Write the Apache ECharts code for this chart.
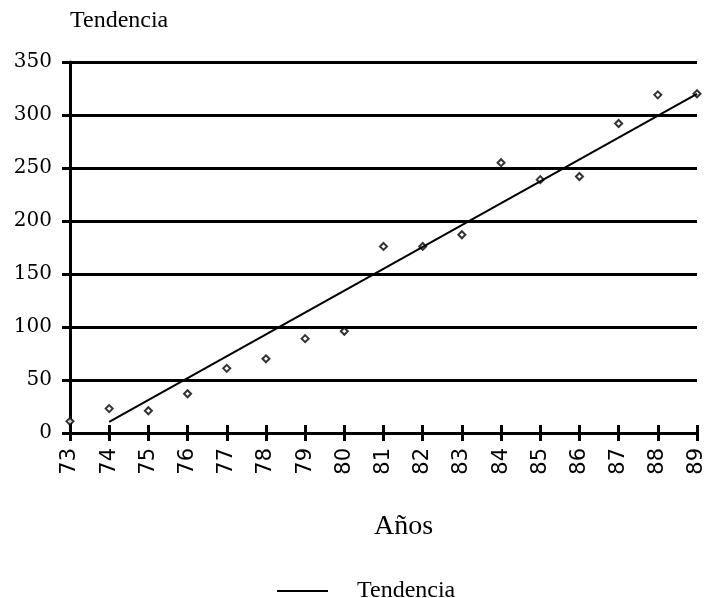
<!DOCTYPE html>
<html>
<head>
<meta charset="utf-8">
<script src="https://cdn.jsdelivr.net/npm/echarts@6/dist/echarts.min.js"></script>
<style>
  html, body { margin: 0; padding: 0; background: #fff; }
  #chart { width: 709px; height: 598px; }
</style>
</head>
<body>
<div id="chart"></div>
<script>
// años (eje x) y valores observados
const years = [73, 74, 75, 76, 77, 78, 79, 80, 81, 82, 83, 84, 85, 86, 87, 88, 89];
const observed = [11, 23, 21, 37, 61, 70, 89, 96, 176, 176, 187, 255, 239, 242, 292, 319, 320];
// recta de tendencia: extremos
const trendYears = [74, 89];
const trendValues = [10.5, 320];
const yTicks = [0, 350, 50]; // min, max, interval

const serif = 'DejaVu Serif';

const chart = echarts.init(document.getElementById('chart'));

const option = {
  animation: false,
  backgroundColor: '#fff',
  grid: { left: 70, right: 12, top: 62, bottom: 165 },
  legend: {
    data: [{ name: 'Tendencia', icon: 'rect' }],
    left: 272,
    top: 574,
    itemWidth: 51,
    itemHeight: 2,
    itemStyle: { color: '#000' },
    textStyle: { fontFamily: 'Liberation Serif', fontSize: 24, color: '#000', padding: [0, 0, 6, 24] },
  },
  xAxis: [
    {
      type: 'value',
      min: years[0],
      max: years[years.length - 1],
      interval: 1,
      name: 'Años',
      nameLocation: 'middle',
      nameGap: 80,
      nameTextStyle: { fontFamily: 'Liberation Serif', fontSize: 28, color: '#000', padding: [0, 0, 0, 40] },
      axisLine: { show: true, lineStyle: { color: '#000', width: 3 } },
      axisTick: { show: true, length: 8, lineStyle: { color: '#000', width: 3 } },
      axisLabel: {
        rotate: 90,
        margin: 15,
        fontFamily: 'DejaVu Sans',
        fontSize: 21,
        color: '#000',
      },
      splitLine: { show: false },
    },
    {
      type: 'value',
      min: years[0],
      max: years[years.length - 1],
      interval: 1,
      position: 'bottom',
      axisLine: { show: false },
      axisTick: { show: true, inside: true, length: 8, lineStyle: { color: '#000', width: 3 } },
      axisLabel: { show: false },
      splitLine: { show: false },
    },
  ],
  yAxis: {
    type: 'value',
    min: yTicks[0],
    max: yTicks[1],
    interval: yTicks[2],
    name: 'Tendencia',
    nameLocation: 'end',
    nameGap: 41,
    nameTextStyle: { fontFamily: 'Liberation Serif', fontSize: 24, color: '#000', align: 'left', verticalAlign: 'middle' },
    axisLine: { show: true, lineStyle: { color: '#000', width: 3 } },
    axisTick: { show: true, length: 8, lineStyle: { color: '#000', width: 3 } },
    axisLabel: { margin: 18, fontFamily: serif, fontSize: 20, color: '#000' },
    splitLine: { show: true, lineStyle: { color: '#000', width: 3 } },
  },
  series: [
    {
      name: 'Observado',
      type: 'scatter',
      symbol: 'diamond',
      symbolSize: 7,
      itemStyle: { color: '#fff', borderColor: '#000', borderWidth: 2 },
      data: years.map((y, i) => [y, observed[i]]),
      z: 3,
    },
    {
      name: 'Tendencia',
      type: 'line',
      symbol: 'none',
      lineStyle: { color: '#000', width: 2 },
      itemStyle: { color: '#000' },
      data: trendYears.map((y, i) => [y, trendValues[i]]),
      z: 4,
    },
  ],
};

chart.setOption(option);
</script>
</body>
</html>
